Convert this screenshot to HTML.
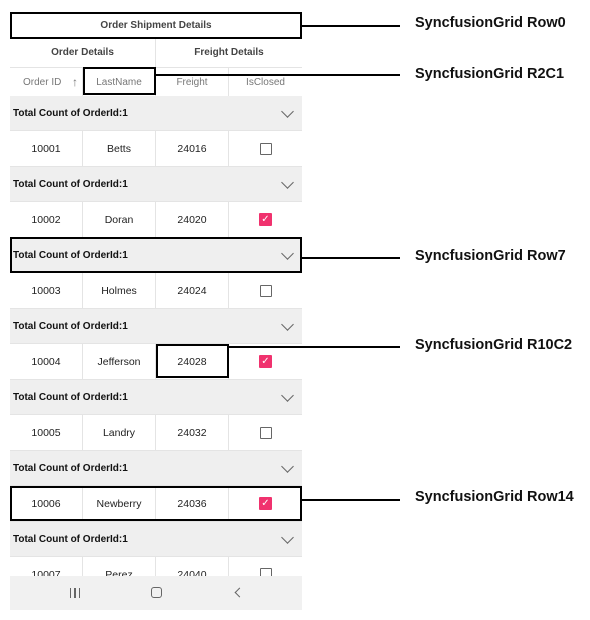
<!DOCTYPE html>
<html><head><meta charset="utf-8"><style>
body{margin:0;width:590px;height:620px;background:#fff;position:relative;overflow:hidden;font-family:"Liberation Sans",sans-serif}
.a{position:absolute;box-sizing:border-box}
.c{display:flex;align-items:center;justify-content:center}
.g{background:#efefef;font-size:10px;font-weight:bold;color:#111;padding-left:3px;display:flex;align-items:center;border-bottom:1px solid #e4e4e4}
.d{background:#fff;border-bottom:1px solid #e4e4e4}
.cell{position:absolute;top:0;height:100%;width:73px;display:flex;align-items:center;justify-content:center;font-size:10.5px;color:#222;border-right:1px solid #e4e4e4;box-sizing:border-box}
.cb{width:12px;height:12px;border:1.5px solid #666;border-radius:1px;box-sizing:border-box}
.cbk{width:13px;height:13px;background:#f0326e;border-radius:1px;color:#fff;font-size:10px;display:flex;align-items:center;justify-content:center}
.chev{position:absolute;right:10px;top:11px;width:8px;height:8px;border-right:1.6px solid #666;border-bottom:1.6px solid #666;transform:rotate(45deg)}
.box{position:absolute;border:2px solid #000;box-sizing:border-box}
.ln{position:absolute;height:1.5px;background:#000}
.lb{position:absolute;left:415px;font-size:14.5px;font-weight:bold;color:#111}
</style></head><body>
<div class="a c" style="left:10px;top:12px;width:292px;height:26px;font-size:10px;font-weight:bold;color:#444">Order Shipment Details</div>
<div class="a" style="left:10px;top:38px;width:292px;height:30px;border-bottom:1px solid #e4e4e4">
<div class="cell" style="left:0;width:146px;font-weight:bold;font-size:10px;color:#444">Order Details</div>
<div class="cell" style="left:146px;width:146px;font-weight:bold;font-size:10px;color:#444;border-right:none">Freight Details</div></div>
<div class="a" style="left:10px;top:68px;width:292px;height:28px">
<div class="cell" style="left:0;color:#777;font-size:10px;justify-content:flex-start;padding-left:13px">Order ID<span style="position:absolute;right:4px;font-size:12px">↑</span></div>
<div class="cell" style="left:73px;color:#777;font-size:10px">LastName</div>
<div class="cell" style="left:146px;color:#777;font-size:10px">Freight</div>
<div class="cell" style="left:219px;color:#777;font-size:10px;border-right:none">IsClosed</div></div>

<div class="a g" style="left:10px;top:96px;width:292px;height:35px">Total Count of OrderId:1<div class="chev"></div></div>
<div class="a d" style="left:10px;top:131px;width:292px;height:36px"><div class="cell" style="left:0">10001</div><div class="cell" style="left:73px">Betts</div><div class="cell" style="left:146px">24016</div><div class="cell" style="left:219px;border:none"><div class="cb"></div></div></div>
<div class="a g" style="left:10px;top:167px;width:292px;height:35px">Total Count of OrderId:1<div class="chev"></div></div>
<div class="a d" style="left:10px;top:202px;width:292px;height:36px"><div class="cell" style="left:0">10002</div><div class="cell" style="left:73px">Doran</div><div class="cell" style="left:146px">24020</div><div class="cell" style="left:219px;border:none"><div class="cbk">✓</div></div></div>
<div class="a g" style="left:10px;top:238px;width:292px;height:35px">Total Count of OrderId:1<div class="chev"></div></div>
<div class="a d" style="left:10px;top:273px;width:292px;height:36px"><div class="cell" style="left:0">10003</div><div class="cell" style="left:73px">Holmes</div><div class="cell" style="left:146px">24024</div><div class="cell" style="left:219px;border:none"><div class="cb"></div></div></div>
<div class="a g" style="left:10px;top:309px;width:292px;height:35px">Total Count of OrderId:1<div class="chev"></div></div>
<div class="a d" style="left:10px;top:344px;width:292px;height:36px"><div class="cell" style="left:0">10004</div><div class="cell" style="left:73px">Jefferson</div><div class="cell" style="left:146px">24028</div><div class="cell" style="left:219px;border:none"><div class="cbk">✓</div></div></div>
<div class="a g" style="left:10px;top:380px;width:292px;height:35px">Total Count of OrderId:1<div class="chev"></div></div>
<div class="a d" style="left:10px;top:415px;width:292px;height:36px"><div class="cell" style="left:0">10005</div><div class="cell" style="left:73px">Landry</div><div class="cell" style="left:146px">24032</div><div class="cell" style="left:219px;border:none"><div class="cb"></div></div></div>
<div class="a g" style="left:10px;top:451px;width:292px;height:35px">Total Count of OrderId:1<div class="chev"></div></div>
<div class="a d" style="left:10px;top:486px;width:292px;height:36px"><div class="cell" style="left:0">10006</div><div class="cell" style="left:73px">Newberry</div><div class="cell" style="left:146px">24036</div><div class="cell" style="left:219px;border:none"><div class="cbk">✓</div></div></div>
<div class="a g" style="left:10px;top:522px;width:292px;height:35px">Total Count of OrderId:1<div class="chev"></div></div>
<div class="a d" style="left:10px;top:557px;width:292px;height:36px;overflow:hidden"><div class="cell" style="left:0;align-items:flex-start;padding-top:12px">10007</div><div class="cell" style="left:73px;align-items:flex-start;padding-top:12px">Perez</div><div class="cell" style="left:146px;align-items:flex-start;padding-top:12px">24040</div><div class="cell" style="left:219px;border:none;align-items:flex-start;padding-top:11px"><div class="cb"></div></div></div>
<div class="a" style="left:10px;top:576px;width:292px;height:34px;background:#f1f1f1">
<div class="a" style="left:60px;top:12px;width:10px;height:10px;border-left:1.5px solid #666;border-right:1.5px solid #666"></div>
<div class="a" style="left:64px;top:12px;width:1.5px;height:10px;background:#666"></div>
<div class="a" style="left:141px;top:11px;width:11px;height:11px;border:1.5px solid #666;border-radius:3px"></div>
<div class="a" style="left:226px;top:13px;width:7px;height:7px;border-left:1.5px solid #666;border-bottom:1.5px solid #666;transform:rotate(45deg)"></div>
</div>

<div class="box" style="left:10px;top:12px;width:292px;height:27px"></div>
<div class="box" style="left:83px;top:67px;width:73px;height:28px"></div>
<div class="box" style="left:10px;top:237px;width:292px;height:36px"></div>
<div class="box" style="left:156px;top:344px;width:73px;height:34px"></div>
<div class="box" style="left:10px;top:486px;width:292px;height:35px"></div>
<div class="ln" style="left:302px;top:25px;width:98px"></div>
<div class="ln" style="left:156px;top:74px;width:244px"></div>
<div class="ln" style="left:302px;top:257px;width:98px"></div>
<div class="ln" style="left:229px;top:346px;width:171px"></div>
<div class="ln" style="left:302px;top:499px;width:98px"></div>
<div class="lb" style="top:15px">SyncfusionGrid Row0</div>
<div class="lb" style="top:66px">SyncfusionGrid R2C1</div>
<div class="lb" style="top:248px">SyncfusionGrid Row7</div>
<div class="lb" style="top:337px">SyncfusionGrid R10C2</div>
<div class="lb" style="top:489px">SyncfusionGrid Row14</div>
</body></html>
